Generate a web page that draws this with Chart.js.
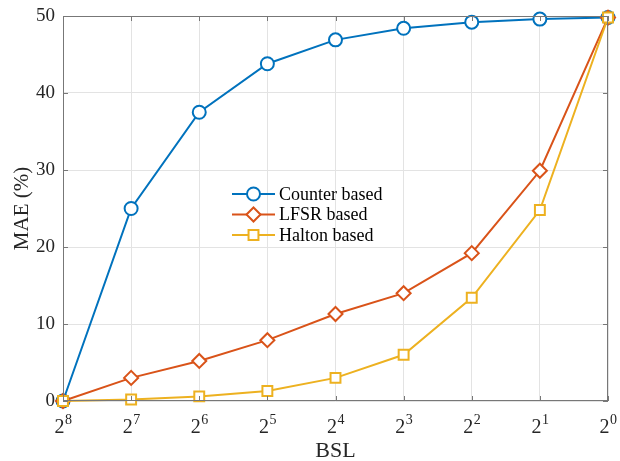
<!DOCTYPE html>
<html>
<head>
<meta charset="utf-8">
<script src="https://cdn.jsdelivr.net/npm/chart.js@4.4.1/dist/chart.umd.min.js"></script>
<style>
  html, body { margin: 0; padding: 0; background: #fff; }
  #wrap { width: 620px; height: 461px; }
</style>
</head>
<body>
<div id="wrap"><canvas id="chart"></canvas></div>
<script>
const bslExponents = [8, 7, 6, 5, 4, 3, 2, 1, 0];
const bslLabels = bslExponents.map(e => '2^' + e);

const counterBased = [0, 25.0, 37.5, 43.8, 46.9, 48.4, 49.2, 49.6, 49.8];
const lfsrBased = [0, 3.0, 5.2, 7.9, 11.3, 14.0, 19.2, 29.9, 49.8];
const haltonBased = [0, 0.2, 0.6, 1.3, 3.0, 6.0, 13.4, 24.8, 49.8];

const yTicks = [0, 10, 20, 30, 40, 50];

const serif = '"Liberation Serif", "Times New Roman", serif';
const axisColor = '#777777';

// box round the plot, inward tick marks and 2^n tick labels
const matlabAxes = {
    id: 'matlabAxes',
    afterDatasetsDraw(chart) {
        const ctx = chart.ctx;
        const a = chart.chartArea;
        const xs = chart.scales.x;
        const ys = chart.scales.y;
        ctx.save();
        ctx.strokeStyle = axisColor;
        ctx.lineWidth = 1;
        ctx.strokeRect(a.left + 0.5, a.top + 0.5, a.right - a.left - 1, a.bottom - a.top - 1);
        ctx.beginPath();
        bslLabels.forEach((l, i) => {
            const x = Math.round(xs.getPixelForValue(i)) + 0.5;
            ctx.moveTo(x, a.bottom); ctx.lineTo(x, a.bottom - 5);
            ctx.moveTo(x, a.top); ctx.lineTo(x, a.top + 5);
        });
        yTicks.forEach(v => {
            const y = Math.round(ys.getPixelForValue(v)) + 0.5;
            ctx.moveTo(a.left, y); ctx.lineTo(a.left + 5, y);
            ctx.moveTo(a.right, y); ctx.lineTo(a.right - 5, y);
        });
        ctx.stroke();
        ctx.restore();
    },
    afterDraw(chart) {
        const ctx = chart.ctx;
        const xs = chart.scales.x;
        const a = chart.chartArea;
        ctx.save();
        ctx.fillStyle = '#262626';
        ctx.textBaseline = 'alphabetic';
        ctx.textAlign = 'left';
        bslLabels.forEach((l, i) => {
            const [base, exp] = l.split('^');
            const cx = xs.getPixelForValue(i);
            ctx.font = '20px ' + serif;
            const w1 = ctx.measureText(base).width;
            ctx.font = '14px ' + serif;
            const w2 = ctx.measureText(exp).width;
            const x0 = cx - (w1 + w2) / 2;
            ctx.font = '20px ' + serif;
            ctx.fillText(base, x0, a.bottom + 32);
            ctx.font = '14px ' + serif;
            ctx.fillText(exp, x0 + w1 + 0.5, a.bottom + 23);
        });
        ctx.restore();
    }
};

// legend drawn inside the plot, MATLAB style without a box
const innerLegend = {
    id: 'innerLegend',
    afterDraw(chart, args, opts) {
        const ctx = chart.ctx;
        ctx.save();
        chart.data.datasets.forEach((ds, i) => {
            const y = opts.y + i * opts.rowGap;
            ctx.strokeStyle = ds.borderColor;
            ctx.lineWidth = ds.borderWidth;
            ctx.beginPath();
            ctx.moveTo(opts.x, y);
            ctx.lineTo(opts.x + opts.lineLength, y);
            ctx.stroke();
            ctx.fillStyle = '#fff';
            ctx.strokeStyle = ds.borderColor;
            ctx.lineWidth = ds.pointBorderWidth;
            Chart.helpers.drawPoint(ctx, {
                pointStyle: ds.pointStyle,
                radius: ds.pointRadius,
                borderWidth: ds.pointBorderWidth,
                rotation: 0
            }, opts.x + opts.lineLength / 2, y);
            ctx.fillStyle = '#000';
            ctx.font = '18px ' + serif;
            ctx.textBaseline = 'middle';
            ctx.textAlign = 'left';
            ctx.fillText(ds.label, opts.x + opts.lineLength + 4, y + 1);
        });
        ctx.restore();
    }
};

function series(label, data, color, style, radius, order) {
    return {
        label: label,
        data: data,
        borderColor: color,
        backgroundColor: '#ffffff',
        borderWidth: 2,
        pointStyle: style,
        pointRadius: radius,
        pointHoverRadius: radius,
        pointBorderWidth: 2,
        pointBackgroundColor: '#ffffff',
        pointBorderColor: color,
        tension: 0,
        order: order,
        clip: false
    };
}

new Chart(document.getElementById('chart'), {
    type: 'line',
    data: {
        labels: bslLabels,
        datasets: [
            series('Counter based', counterBased, '#0072BD', 'circle', 6.5, 3),
            series('LFSR based', lfsrBased, '#D95319', 'rectRot', 7, 2),
            series('Halton based', haltonBased, '#EDB120', 'rect', 7, 1)
        ]
    },
    options: {
        responsive: true,
        maintainAspectRatio: false,
        animation: false,
        layout: {
            padding: { left: 0, right: 12, top: 16, bottom: 0 }
        },
        plugins: {
            legend: { display: false },
            tooltip: { enabled: false },
            innerLegend: { x: 232, y: 194, rowGap: 20.5, lineLength: 43 }
        },
        scales: {
            x: {
                type: 'category',
                offset: false,
                grid: { color: '#e3e3e3', drawTicks: false },
                border: { display: false },
                ticks: { display: false },
                title: {
                    display: true,
                    text: 'BSL',
                    color: '#262626',
                    font: { family: serif, size: 22 },
                    padding: { top: 0, bottom: -3.5 }
                },
                afterFit(scale) {
                    scale.height = 60;
                    scale.paddingLeft = 0;
                    scale.paddingRight = 0;
                }
            },
            y: {
                min: 0,
                max: 50,
                grid: { color: '#e3e3e3', drawTicks: false },
                border: { display: false },
                afterBuildTicks(scale) { scale.ticks = yTicks.map(v => ({ value: v })); },
                ticks: {
                    color: '#262626',
                    padding: 8,
                    font: { family: serif, size: 19 }
                },
                title: {
                    display: true,
                    text: 'MAE (%)',
                    color: '#262626',
                    font: { family: serif, size: 21 },
                    padding: { top: 10, bottom: 0 }
                },
                afterFit(scale) {
                    scale.width = 63;
                    scale.paddingTop = 0;
                    scale.paddingBottom = 0;
                }
            }
        }
    },
    plugins: [matlabAxes, innerLegend]
});
</script>
</body>
</html>
